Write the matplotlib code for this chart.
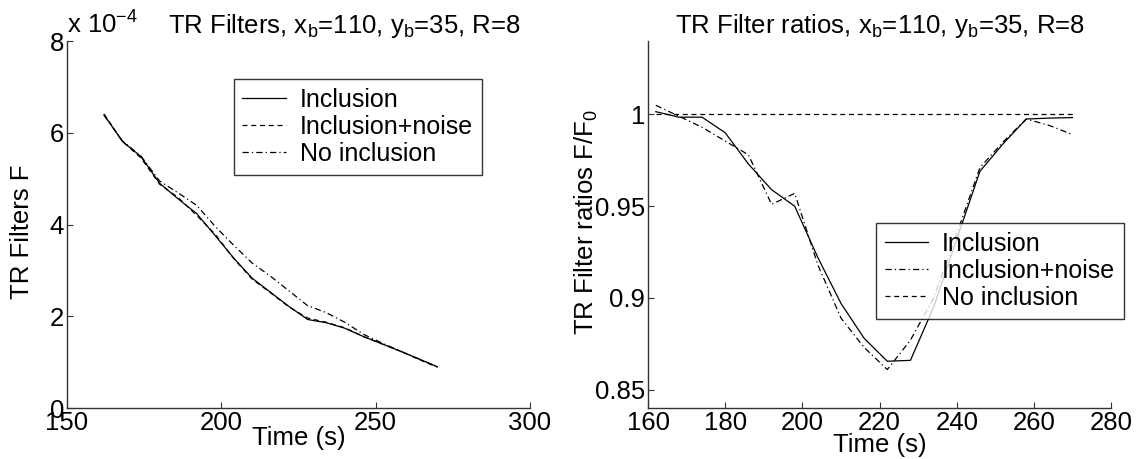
import matplotlib
matplotlib.use("Agg")
import matplotlib.pyplot as plt

plt.rcParams["font.family"] = ["Liberation Sans", "DejaVu Sans"]
plt.rcParams["mathtext.default"] = "regular"

# time samples (s)
time_s = [162, 168, 174, 180, 186, 192, 198, 204, 210, 216,
          222, 228, 234, 240, 246, 252, 258, 264, 270]

# TR filters F, in units of 1e-4
f_inclusion = [6.39, 5.81, 5.48, 4.90, 4.56, 4.24, 3.76, 3.27, 2.83, 2.52,
               2.21, 1.93, 1.86, 1.74, 1.56, 1.40, 1.24, 1.07, 0.90]
f_noise = [6.41, 5.81, 5.45, 4.88, 4.59, 4.20, 3.79, 3.26, 2.81, 2.51,
           2.20, 1.96, 1.87, 1.75, 1.56, 1.40, 1.24, 1.06, 0.89]
f_no_inclusion = [6.38, 5.82, 5.49, 4.95, 4.69, 4.42, 3.96, 3.55, 3.16, 2.87,
                  2.55, 2.23, 2.08, 1.87, 1.61, 1.42, 1.24, 1.07, 0.90]

# filter ratios F/F0
r_inclusion = [1.0015, 0.9985, 0.9985, 0.990, 0.973, 0.959, 0.950, 0.922, 0.897, 0.878,
               0.8655, 0.866, 0.895, 0.932, 0.969, 0.984, 0.9975, 0.998, 0.9983]
r_noise = [1.005, 0.999, 0.993, 0.9855, 0.978, 0.951, 0.957, 0.918, 0.889, 0.873,
           0.861, 0.877, 0.900, 0.935, 0.971, 0.985, 0.9975, 0.994, 0.989]
r_no_inclusion = [1.0] * len(time_s)

TITLE_L = "TR Filters, x$_b$=110, y$_b$=35, R=8"
TITLE_R = "TR Filter ratios, x$_b$=110, y$_b$=35, R=8"

FS = 18.5
FS_LEG = 18
LW = 0.9
AX_COLOR = "#333333"
DASHED = (4, 3)
DASHDOT = (5, 2.5, 1, 2.5)


def style_axes(ax):
    for side in ["top", "right"]:
        ax.spines[side].set_visible(False)
    for side in ["left", "bottom"]:
        ax.spines[side].set_color(AX_COLOR)
        ax.spines[side].set_linewidth(1.0)
    ax.tick_params(direction="in", length=4, width=0.8, colors=AX_COLOR,
                   labelcolor="black", labelsize=FS, pad=2)


def add_legend(ax, anchor):
    leg = ax.legend(loc="upper left", bbox_to_anchor=anchor, borderaxespad=0,
                    fontsize=FS_LEG, frameon=True, fancybox=False, handlelength=1.75,
                    handletextpad=0.55, borderpad=0.35, labelspacing=0.12)
    leg.get_frame().set_edgecolor("black")
    leg.get_frame().set_linewidth(1.0)
    return leg


fig = plt.figure(figsize=(11.41, 4.59), dpi=100)
ax1 = fig.add_axes([0.0587, 0.111, 0.4058, 0.7996])
ax2 = fig.add_axes([0.568, 0.111, 0.4058, 0.7996])

# left panel: raw filters
ax1.plot(time_s, f_inclusion, "-", color="black", lw=LW, label="Inclusion")
ax1.plot(time_s, f_noise, "--", color="black", lw=LW, label="Inclusion+noise", dashes=DASHED)
ax1.plot(time_s, f_no_inclusion, "-.", color="black", lw=LW, label="No inclusion",
         dashes=DASHDOT)
ax1.set_xlim(150, 300)
ax1.set_ylim(0, 8)
ax1.set_xticks([150, 200, 250, 300])
ax1.set_yticks([0, 2, 4, 6, 8])
style_axes(ax1)
ax1.set_title(TITLE_L, fontsize=FS, x=0.60, y=1.0)
ax1.set_xlabel("Time (s)", fontsize=FS)
ax1.xaxis.set_label_coords(0.5, -0.082)
ax1.xaxis.label.set_va("center")
ax1.set_ylabel("TR Filters F", fontsize=FS)
ax1.yaxis.set_label_coords(-0.097, 0.48)
ax1.yaxis.label.set_va("center")
ax1.text(0.0, 1.045, "x 10$^{-4}$", transform=ax1.transAxes, fontsize=FS,
         ha="left", va="center")
add_legend(ax1, (0.36, 0.896))

# right panel: ratios to the no-inclusion filter
ax2.plot(time_s, r_inclusion, "-", color="black", lw=LW, label="Inclusion")
ax2.plot(time_s, r_noise, "-.", color="black", lw=LW, label="Inclusion+noise",
         dashes=DASHDOT)
ax2.plot(time_s, r_no_inclusion, "--", color="black", lw=LW, label="No inclusion",
         dashes=DASHED)
ax2.set_xlim(160, 280)
ax2.set_ylim(0.84, 1.04)
ax2.set_xticks([160, 180, 200, 220, 240, 260, 280])
ax2.set_yticks([0.85, 0.9, 0.95, 1.0])
ax2.set_yticklabels(["0.85", "0.9", "0.95", "1"])
style_axes(ax2)
ax2.set_title(TITLE_R, fontsize=FS, y=1.0)
ax2.set_xlabel("Time (s)", fontsize=FS)
ax2.xaxis.set_label_coords(0.5, -0.10)
ax2.xaxis.label.set_va("center")
ax2.set_ylabel("TR Filter ratios F/F$_0$", fontsize=FS)
ax2.yaxis.set_label_coords(-0.134, 0.507)
ax2.yaxis.label.set_va("center")
add_legend(ax2, (0.492, 0.503))

fig.savefig("out.png", dpi=100, facecolor="white")
